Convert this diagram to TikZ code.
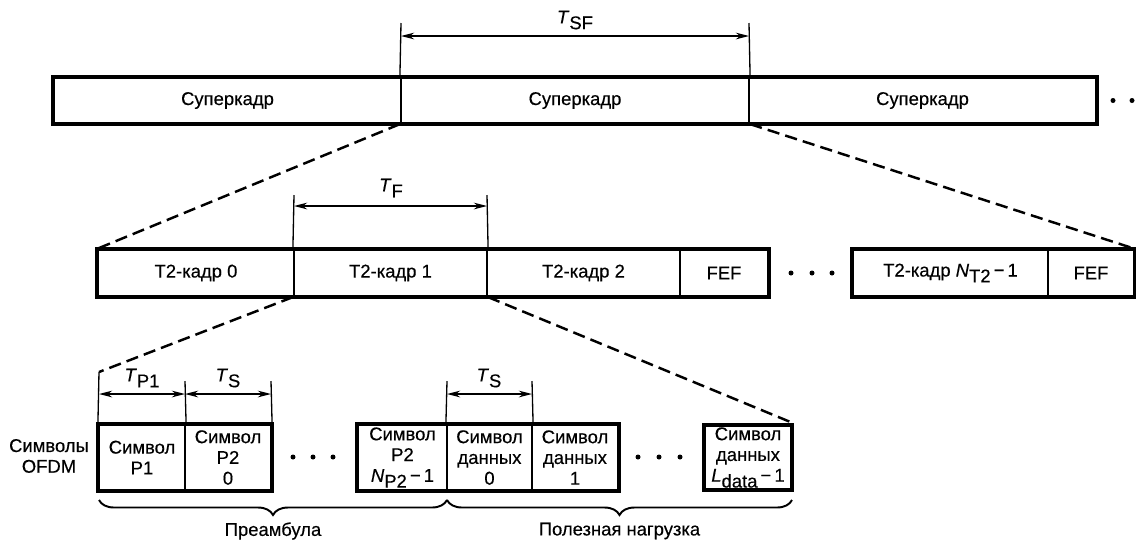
\documentclass[tikz,border=0pt]{standalone}
\usepackage{fontspec}
\setmainfont{Liberation Sans}[FakeBold=0.35]
\usetikzlibrary{arrows.meta,decorations.pathreplacing}
\newcommand\lbl[2]{\textit{#1}\raisebox{-0.6ex}{#2}}
\newcommand\mycell[7][]{\node[cell,#1, minimum width={(#4-#3)*0.02cm}, minimum height={(#6-#5)*0.02cm}] (#2) at ({(#3+#4)/2},{(#5+#6)/2}) {#7};}
\begin{document}
\begin{tikzpicture}[x=0.02cm,y=-0.02cm,
  font=\fontsize{10.5}{11.8}\selectfont,
  cell/.style={draw, line width=1.25pt, inner sep=0pt, align=center},
  frame/.style={line width=1.9pt},
  dim/.style={line width=0.75pt},
  dimarrow/.style={line width=0.8pt, {Stealth[length=7.5pt,width=3.8pt]}-{Stealth[length=7.5pt,width=3.8pt]}},
  zoomline/.style={line width=1.4pt, dash pattern=on 7pt off 3.5pt},
  dot/.style={circle, fill, inner sep=0pt, minimum size=0.1cm},
  brc/.style={line width=1.1pt, decorate, decoration={brace, mirror, amplitude=0.3cm}}]
\useasboundingbox (0,0) rectangle (1136,539);

% ---- Row 1: superframes
\mycell{sf1}{54}{401}{78}{123}{Суперкадр}
\mycell{sf2}{401}{749}{78}{123}{Суперкадр}
\mycell{sf3}{749}{1096}{78}{123}{Суперкадр}
\draw[frame] (sf1.north west) rectangle (sf3.south east);
\node[dot] (sd1) at (1113,100.5) {};
\node[dot] (sd2) at (1132,100.5) {};

\coordinate (tsfTL) at (401,23);
\coordinate (tsfTR) at (749,23);
\coordinate (tsfL) at (401,36);
\coordinate (tsfR) at (749,36);
\draw[dim] (sf2.north west) -- (tsfTL);
\draw[dim] (sf2.north east) -- (tsfTR);
\draw[dimarrow] (tsfL) -- (tsfR);
\node (tsf) at (575,20) {\lbl{T}{SF}};

% ---- Row 2: T2 frames
\mycell{f0}{98}{294}{250}{296}{T2-кадр 0}
\mycell{f1}{294}{487}{250}{296}{T2-кадр 1}
\mycell{f2}{487}{680}{250}{296}{T2-кадр 2}
\mycell{fefa}{680}{768}{250}{296}{FEF}
\draw[frame] (f0.north west) rectangle (fefa.south east);
\node[dot] (fd1) at (791,273) {};
\node[dot] (fd2) at (812,273) {};
\node[dot] (fd3) at (832,273) {};
\mycell{fn}{853}{1048}{250}{296}{T2-кадр \lbl{N}{T2}\,−\,1}
\mycell{fefb}{1048}{1134}{250}{296}{FEF}
\draw[frame] (fn.north west) rectangle (fefb.south east);

\coordinate (tfTL) at (294,195);
\coordinate (tfTR) at (487,195);
\coordinate (tfL) at (294,206);
\coordinate (tfR) at (487,206);
\draw[dim] (f1.north west) -- (tfTL);
\draw[dim] (f1.north east) -- (tfTR);
\draw[dimarrow] (tfL) -- (tfR);
\node (tf) at (391,188) {\lbl{T}{F}};

% ---- Row 3: OFDM symbols
\node[align=center] (ofdm) at (49,456) {Символы\\OFDM};
\mycell{p1}{99}{185}{425}{490}{Символ\\P1}
\mycell{p20}{185}{271}{425}{490}{Символ\\P2\\0}
\draw[frame] (p1.north west) rectangle (p20.south east);
\node[dot] (pd1) at (293,457) {};
\node[dot] (pd2) at (313,457) {};
\node[dot] (pd3) at (333,457) {};
\mycell{p2n}{358}{447}{425}{490}{Символ\\P2\\\lbl{N}{P2}\,−\,1}
\mycell{d0}{447}{532}{425}{490}{Символ\\данных\\0}
\mycell{d1}{532}{618}{425}{490}{Символ\\данных\\1}
\draw[frame] (p2n.north west) rectangle (d1.south east);
\node[dot] (dd1) at (638,457) {};
\node[dot] (dd2) at (659,457) {};
\node[dot] (dd3) at (680,457) {};
\mycell[line width=1.9pt]{dl}{704}{792}{425}{490}{Символ\\данных\\\lbl{L}{data}\,−\,1}

\coordinate (p1top) at (99,372);
\coordinate (tp1L) at (99,394);
\coordinate (tp1R) at (185,394);
\coordinate (ts1R) at (271,394);
\coordinate (ts2L) at (447,394);
\coordinate (ts2R) at (532,394);
\coordinate (v1) at (185,381);
\coordinate (v2) at (271,381);
\coordinate (v3) at (447,381);
\coordinate (v4) at (532,381);
\draw[dim] (p1.north west) -- (p1top);
\draw[dim] (p1.north east) -- (v1);
\draw[dim] (p20.north east) -- (v2);
\draw[dim] (d0.north west) -- (v3);
\draw[dim] (d0.north east) -- (v4);
\draw[dimarrow] (tp1L) -- (tp1R);
\draw[dimarrow] (tp1R) -- (ts1R);
\draw[dimarrow] (ts2L) -- (ts2R);
\node (tp1) at (142,378) {\lbl{T}{P1}};
\node (ts1) at (228,378) {\lbl{T}{S}};
\node (ts2) at (489,378) {\lbl{T}{S}};

% ---- zoom lines
\draw[zoomline] (sf2.south west) -- (f0.north west);
\draw[zoomline] (sf2.south east) -- (fefb.north east);
\draw[zoomline] (f1.south west) -- (p1top);
\draw[zoomline] (f1.south east) -- (dl.north east);

% ---- braces
\coordinate (b1) at (99,500);
\coordinate (b2) at (447,500);
\coordinate (b3) at (792,500);
\draw[brc] (b1) -- (b2);
\draw[brc] (b2) -- (b3);
\node (pre) at (273,531) {Преамбула};
\node (pay) at (619.5,531) {Полезная нагрузка};
\end{tikzpicture}
\end{document}
